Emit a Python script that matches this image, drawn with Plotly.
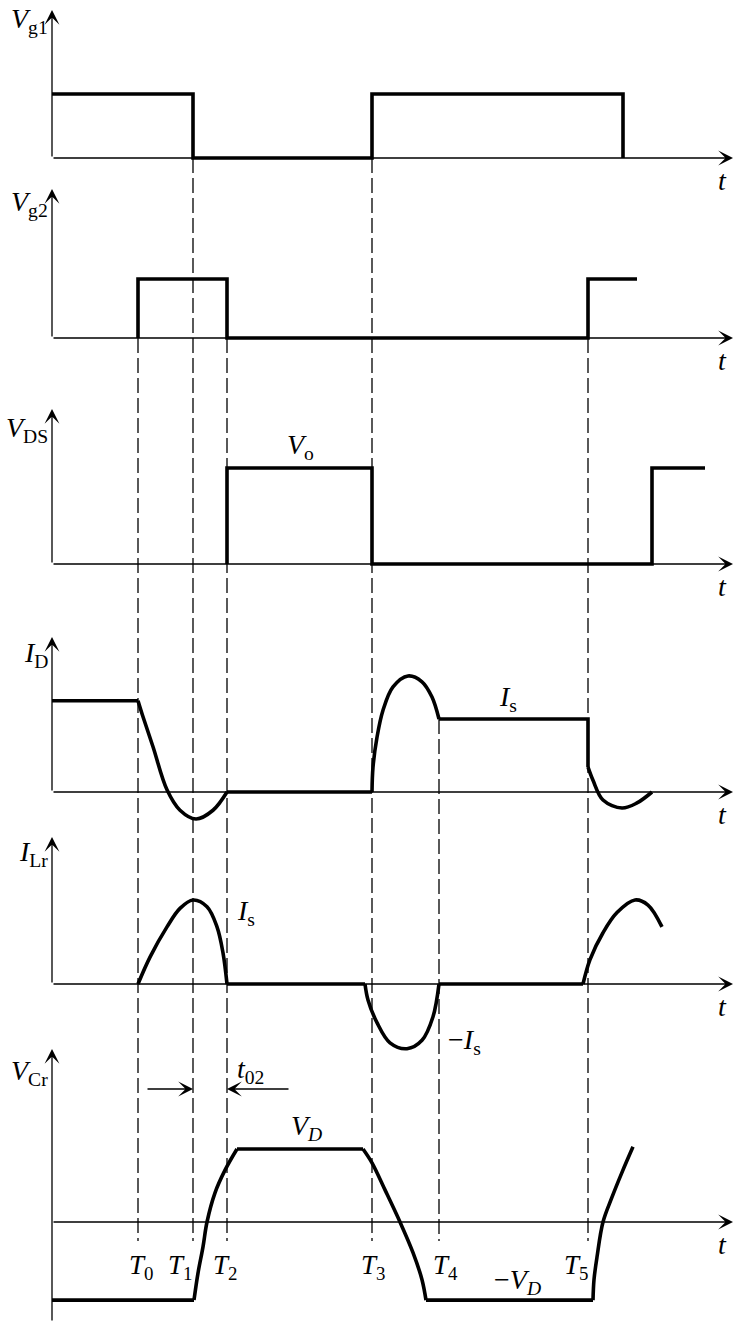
import plotly.graph_objects as go

W, H = 737, 1322
FONT = "Liberation Serif"

# ---------------- data (time in arbitrary units, signals in normalized units) ----------------
T_TIMES = [8.6, 14.1, 17.5, 32.0, 38.7, 53.6]
T_SUBS = ["0", "1", "2", "3", "4", "5"]
# where each dashed marker line starts: (panel, value)
DASH_FROM = [("vg2", 0.0), ("vg1", 0.0), ("vg2", 0.0), ("vg1", 0.0), ("id", 1.0), ("vg2", 0.0)]

vg1_t = [0, 14.1, 14.1, 32.0, 32.0, 57.1, 57.1]
vg1_v = [1, 1, 0, 0, 1, 1, 0]

vg2_t = [8.6, 8.6, 17.5, 17.5, 53.6, 53.6, 58.5]
vg2_v = [0, 1, 1, 0, 0, 1, 1]

vds_t = [17.5, 17.5, 32.0, 32.0, 60.0, 60.0, 65.3]
vds_v = [0, 1, 1, 0, 0, 1, 1]

id_flat1_t = [0, 8.6]
id_flat1_v = [1.25, 1.25]
id_curve1_t = [8.6, 9.1, 10.1, 11.5, 12.8, 14.4, 16.1, 17.5]
id_curve1_v = [1.25, 1.03, 0.62, 0.03, -0.25, -0.37, -0.25, 0]
id_flat2_t = [17.5, 32.0]
id_flat2_v = [0, 0]
id_curve2_t = [32.0, 32.1, 32.5, 33.1, 34.1, 35.6, 37.0, 38.0, 38.7]
id_curve2_v = [0, 0.34, 0.75, 1.12, 1.44, 1.59, 1.51, 1.30, 1.0]
id_flat3_t = [38.7, 53.6, 53.6]
id_flat3_v = [1.0, 1.0, 0.34]
id_curve3_t = [53.6, 54.1, 55.1, 57.0, 58.5, 60.0]
id_curve3_v = [0.34, 0.16, -0.11, -0.22, -0.15, 0]

ilr_arc1_t = [8.6, 9.8, 11.5, 12.8, 14.1, 15.5, 16.5, 17.1, 17.5]
ilr_arc1_v = [0, 0.32, 0.68, 0.90, 1.0, 0.92, 0.68, 0.37, 0]
ilr_flat1_t = [17.5, 31.3]
ilr_flat1_v = [0, 0]
ilr_arc2_t = [31.3, 31.6, 32.5, 33.8, 35.5, 37.0, 38.1, 38.7]
ilr_arc2_v = [0, -0.19, -0.46, -0.70, -0.77, -0.67, -0.39, 0]
ilr_flat2_t = [38.7, 53.1]
ilr_flat2_v = [0, 0]
ilr_arc3_t = [53.1, 53.8, 55.1, 56.5, 58.3, 59.6, 61.0]
ilr_arc3_v = [0, 0.29, 0.61, 0.85, 1.0, 0.94, 0.68]

vcr_flat1_t = [0, 14.2]
vcr_flat1_v = [-1.07, -1.07]
vcr_rise1_t = [14.2, 14.6, 15.1, 15.5, 16.3, 17.3, 18.5]
vcr_rise1_v = [-1.07, -0.70, -0.34, 0, 0.40, 0.71, 1.0]
vcr_flat2_t = [18.5, 31.1]
vcr_flat2_v = [1.0, 1.0]
vcr_fall_t = [31.1, 32.0, 33.3, 34.8, 36.1, 37.0, 37.4]
vcr_fall_v = [1.0, 0.81, 0.44, 0, -0.42, -0.79, -1.07]
vcr_flat3_t = [37.4, 54.1]
vcr_flat3_v = [-1.07, -1.07]
vcr_rise2_t = [54.1, 54.2, 54.5, 55.1, 56.0, 57.0, 58.1]
vcr_rise2_v = [-1.07, -0.79, -0.48, 0, 0.34, 0.68, 1.03]

# ---------------- layout geometry (pixels) ----------------
X0, X1 = -5.2, 68.5          # t range across the full width
T_AXIS_END = 68.1            # tip of the t arrows
# name: (domain top px, domain bottom px, baseline px, px per unit, arrow tip px, axis bottom px)
PANELS = {
    "vg1": (0, 180, 158, 64, 10, 158),
    "vg2": (175, 360, 338, 59, 189, 338),
    "vds": (395, 588, 564, 96, 409, 564),
    "id": (625, 838, 792, 73, 637, 792),
    "ilr": (830, 1064, 984, 84, 837, 984),
    "vcr": (1040, 1322, 1222, 73, 1049, 1322),
}
ORDER = ["vg1", "vg2", "vds", "id", "ilr", "vcr"]
AXLABELS = {
    "vg1": ("<i>V</i><sub>g1</sub>", 20),
    "vg2": ("<i>V</i><sub>g2</sub>", 204),
    "vds": ("<i>V</i><sub>DS</sub>", 429),
    "id": ("<i>I</i><sub>D</sub>", 655),
    "ilr": ("<i>I</i><sub>Lr</sub>", 853),
    "vcr": ("<i>V</i><sub>Cr</sub>", 1072),
}
T_LABEL_PX = [141, 180, 225, 373, 445, 576]   # label centres (px) under the markers
FS = 28


def idx(name):
    return ORDER.index(name) + 1


def val(name, py):
    top, bot, base, k, tip, axb = PANELS[name]
    return (base - py) / k


def paper_y(name, v):
    top, bot, base, k, tip, axb = PANELS[name]
    return 1 - (base - v * k) / H


fig = go.Figure()
layout = dict(
    width=W, height=H, margin=dict(l=0, r=0, t=0, b=0),
    paper_bgcolor="white", plot_bgcolor="rgba(0,0,0,0)", showlegend=False,
    font=dict(family=FONT, color="black", size=FS),
)
for name in ORDER:
    i = idx(name)
    top, bot, base, k, tip, axb = PANELS[name]
    sx = "" if i == 1 else str(i)
    layout["xaxis" + sx] = dict(domain=[0, 1], range=[X0, X1], visible=False,
                                anchor="y" + sx, fixedrange=True)
    layout["yaxis" + sx] = dict(domain=[1 - bot / H, 1 - top / H],
                                range=[(base - bot) / k, (base - top) / k],
                                visible=False, anchor="x" + sx, fixedrange=True)
fig.update_layout(**layout)

LW = 3.6


def piece(name, t, v, shape="linear"):
    i = idx(name)
    sx = "" if i == 1 else str(i)
    fig.add_trace(go.Scatter(
        x=t, y=v, mode="lines", xaxis="x" + sx, yaxis="y" + sx,
        line=dict(color="black", width=LW, shape=shape, smoothing=1.0),
        hoverinfo="skip"))


piece("vg1", vg1_t, vg1_v)
piece("vg2", vg2_t, vg2_v)
piece("vds", vds_t, vds_v)
piece("id", id_flat1_t, id_flat1_v)
piece("id", id_curve1_t, id_curve1_v, "spline")
piece("id", id_flat2_t, id_flat2_v)
piece("id", id_curve2_t, id_curve2_v, "spline")
piece("id", id_flat3_t, id_flat3_v)
piece("id", id_curve3_t, id_curve3_v, "spline")
piece("ilr", ilr_arc1_t, ilr_arc1_v, "spline")
piece("ilr", ilr_flat1_t, ilr_flat1_v)
piece("ilr", ilr_arc2_t, ilr_arc2_v, "spline")
piece("ilr", ilr_flat2_t, ilr_flat2_v)
piece("ilr", ilr_arc3_t, ilr_arc3_v, "spline")
piece("vcr", vcr_flat1_t, vcr_flat1_v)
piece("vcr", vcr_rise1_t, vcr_rise1_v, "spline")
piece("vcr", vcr_flat2_t, vcr_flat2_v)
piece("vcr", vcr_fall_t, vcr_fall_v, "spline")
piece("vcr", vcr_flat3_t, vcr_flat3_v)
piece("vcr", vcr_rise2_t, vcr_rise2_v, "spline")

# dashed time markers
dash_end = paper_y("vcr", val("vcr", 1241))
shapes = []
for t, (pname, v) in zip(T_TIMES, DASH_FROM):
    shapes.append(dict(type="line", xref="x", yref="paper", x0=t, x1=t,
                       y0=paper_y(pname, v), y1=dash_end, layer="below",
                       line=dict(color="black", width=1.3, dash="15px,5px")))
fig.update_layout(shapes=shapes)

ann = []
AW = 1.3
AS = 1.9
for name in ORDER:
    i = idx(name)
    sx = "" if i == 1 else str(i)
    top, bot, base, k, tip, axb = PANELS[name]
    # vertical axis arrow
    ann.append(dict(x=0, y=val(name, tip), ax=0, ay=val(name, axb), xref="x" + sx, yref="y" + sx,
                    axref="x" + sx, ayref="y" + sx, showarrow=True, arrowhead=3, arrowsize=AS,
                    arrowwidth=AW, arrowcolor="black", text="", standoff=0, startstandoff=0))
    # horizontal t axis arrow
    ann.append(dict(x=T_AXIS_END, y=0, ax=0, ay=0, xref="x" + sx, yref="y" + sx,
                    axref="x" + sx, ayref="y" + sx, showarrow=True, arrowhead=3, arrowsize=AS,
                    arrowwidth=AW, arrowcolor="black", text="", standoff=0, startstandoff=0))
    # "t" label
    ann.append(dict(x=722 / W, y=1 - (base + 22) / H, xref="paper", yref="paper",
                    text="<i>t</i>", showarrow=False, xanchor="center", yanchor="middle",
                    font=dict(size=FS)))
    # axis name
    txt, py = AXLABELS[name]
    ann.append(dict(x=50 / W, y=1 - py / H, xref="paper", yref="paper", text=txt,
                    showarrow=False, xanchor="right", yanchor="middle", font=dict(size=FS)))

# T labels
for px, s in zip(T_LABEL_PX, T_SUBS):
    ann.append(dict(x=px / W, y=1 - 1267 / H, xref="paper", yref="paper",
                    text="<i>T</i><sub>" + s + "</sub>", showarrow=False,
                    xanchor="center", yanchor="middle", font=dict(size=FS - 1)))

# waveform labels (paper positions)
LABELS = [
    ("<i>V</i><sub>o</sub>", 300, 447),
    ("<i>I</i><sub>s</sub>", 508, 699),
    ("<i>I</i><sub>s</sub>", 246, 912),
    ("−<i>I</i><sub>s</sub>", 464, 1041),
    ("<i>t</i><sub>02</sub>", 250, 1070),
    ("<i>V</i><sub><i>D</i></sub>", 306, 1127),
    ("−<i>V</i><sub><i>D</i></sub>", 517, 1281),
]
for txt, px, py in LABELS:
    ann.append(dict(x=px / W, y=1 - py / H, xref="paper", yref="paper", text=txt,
                    showarrow=False, xanchor="center", yanchor="middle", font=dict(size=FS)))

# t02 interval arrows
y_t02 = val("vcr", 1089)
ann.append(dict(x=T_TIMES[1], y=y_t02, ax=9.4, ay=y_t02, xref="x6", yref="y6", axref="x6",
                ayref="y6", showarrow=True, arrowhead=3, arrowsize=AS, arrowwidth=AW,
                arrowcolor="black", text="", standoff=0))
ann.append(dict(x=T_TIMES[2], y=y_t02, ax=23.8, ay=y_t02, xref="x6", yref="y6", axref="x6",
                ayref="y6", showarrow=True, arrowhead=3, arrowsize=AS, arrowwidth=AW,
                arrowcolor="black", text="", standoff=0))

fig.update_layout(annotations=ann)
fig.write_html(
    "out.html",
    config={"displayModeBar": False, "staticPlot": True},
    post_script="document.body.style.margin='0px';document.body.style.padding='0px';"
                "document.body.style.overflow='hidden';",
)
